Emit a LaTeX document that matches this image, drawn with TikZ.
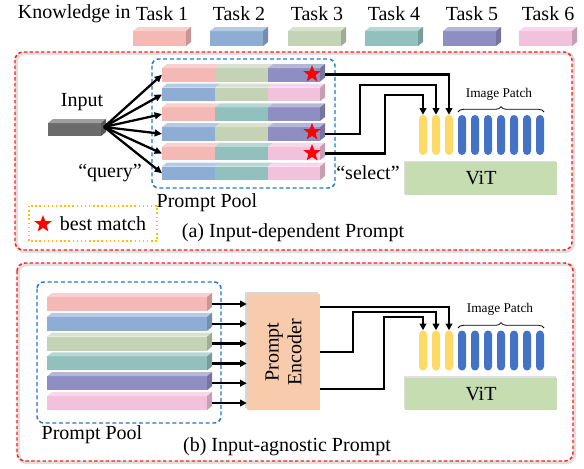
\documentclass[tikz,border=0pt]{standalone}
\usepackage{fontspec}
\setmainfont{Liberation Serif}
\usetikzlibrary{shapes.geometric,decorations.pathreplacing,arrows.meta,shadows}
\definecolor{tA}{HTML}{F4B8B5}
\definecolor{tB}{HTML}{8EADD4}
\definecolor{tC}{HTML}{C4D2B6}
\definecolor{tD}{HTML}{91C0BD}
\definecolor{tE}{HTML}{8F8EC3}
\definecolor{tF}{HTML}{F2C2DD}
\definecolor{inG}{HTML}{6B6B6B}
\definecolor{tokY}{HTML}{FFD966}
\definecolor{tokB}{HTML}{4472C4}
\definecolor{vitG}{HTML}{C5DDB0}
\definecolor{encP}{HTML}{F8CBAD}
\definecolor{poolB}{HTML}{1F78C8}
\definecolor{matchO}{HTML}{FFC000}
\definecolor{panelR}{HTML}{FF1A1A}
\newcommand{\segbar}[5]{%
  \fill[#5] (#1,#2) rectangle ++(#3,#4);
  \fill[#5!65!white] (#1,#2) -- ++(5,-4) -- ++(#3,0) -- ++(-5,4) -- cycle;}
\newcommand{\sidebar}[4]{%
  \fill[#4!82!black] (#1,#2) -- ++(5,-4) -- ++(0,#3) -- ++(-5,4) -- cycle;}
\begin{document}
\begin{tikzpicture}[x=0.75pt,y=-0.75pt,
  txt/.style={font=\fontsize{15}{18}\selectfont, inner sep=0pt},
  smalltxt/.style={font=\fontsize{10}{12}\selectfont, inner sep=0pt},
  panel/.style={draw=panelR, dashed, dash pattern=on 2.5pt off 1.8pt, line width=1.1pt, rounded corners=6pt},
  panelshadow/.style={draw=black!12, line width=2.5pt, rounded corners=6pt},
  pool/.style={draw=poolB, dashed, dash pattern=on 3pt off 2pt, line width=1.1pt, rounded corners=5pt},
  ytok/.style={fill=tokY, rounded corners=3pt, minimum width=6pt, minimum height=30pt, inner sep=0pt},
  btok/.style={fill=tokB, rounded corners=3pt, minimum width=6pt, minimum height=30pt, inner sep=0pt},
  vit/.style={fill=vitG, minimum width=114pt, minimum height=24.5pt, inner sep=0pt, font=\fontsize{15}{18}\selectfont,
    drop shadow={shadow xshift=-1pt, shadow yshift=1pt, opacity=0.25}},
  bstar/.style={star, star points=5, star point ratio=2.4, fill=red, minimum size=13.5pt, inner sep=0pt},
  conn/.style={line width=1.9pt, -{Triangle[length=5pt,width=5pt]}},
  qarrow/.style={line width=1.7pt, -{Triangle[length=5.5pt,width=5pt]}},
]
\useasboundingbox (0,0) rectangle (584,468);
\fill[white] (0,0) rectangle (584,468);

% ---------- legend ----------
\node[txt, anchor=east] (know) at (131,14) {Knowledge in};
\foreach \i/\x/\c in {1/133/tA,2/210/tB,3/288/tC,4/365/tD,5/443/tE,6/519/tF}{
  \segbar{\x}{31}{53}{15}{\c}
  \sidebar{\x+53}{31}{15}{\c}
  \node[txt] (task\i) at (\x+29,14) {Task \i};
}

% ---------- panel (a) ----------
\draw[panelshadow] (16.5,53.5) rectangle (573.5,251.5);
\draw[panel] (15,52) rectangle (572,250);
\draw[pool] (152,59) rectangle (335,188);

% rows of the pool (a)
\foreach \r/\a/\b/\c in {1/tA/tC/tE,2/tB/tC/tF,3/tA/tD/tE,4/tB/tC/tE,5/tA/tD/tF,6/tB/tD/tF}{
  \pgfmathsetmacro{\yy}{68+19.7*(\r-1)}
  \segbar{162}{\yy}{53}{13.5}{\a}
  \segbar{215}{\yy}{53}{13.5}{\b}
  \segbar{268}{\yy}{52}{13.5}{\c}
  \sidebar{320}{\yy}{13.5}{\c}
  \coordinate (pa\r) at (162,\yy+6.75);
  \coordinate (qa\r) at (325,\yy+6.75);
}

% input block
\segbar{48}{123}{53}{13}{inG}
\sidebar{101}{123}{13}{inG}
\coordinate (inR) at (104,127);
\node[txt] (inlab) at (82,102) {Input};
\foreach \r in {1,...,6}{ \draw[qarrow] (inR) -- (pa\r); }
\node[txt] (query) at (110,173) {“query”};

% stars
\node[bstar] (st1) at (312,74) {};
\node[bstar] (st4) at (312,132) {};
\node[bstar] (st5) at (312,153) {};

% tokens (a)
\foreach \i/\x in {1/423,2/436,3/449}{ \node[ytok] (ya\i) at (\x,135) {}; }
\foreach \i/\x in {1/462,2/475,3/488,4/501,5/514,6/527,7/540}{ \node[btok] (ba\i) at (\x,135) {}; }
\draw[decorate, decoration={brace, amplitude=4pt}, line width=0.6pt] (458,112) -- (544,112);
\node[smalltxt] (pha) at (499,94) {Image Patch};
\node[vit] (vita) at (481,178.5) {ViT};

% selection connectors (a)
\draw[conn] (qa1) -| (ya3.north);
\draw[conn] (qa4) -- ++(35,0) |- (436,85) -- (ya2.north);
\draw[conn] (qa5) -- ++(60,0) |- (423,95) -- (ya1.north);
\node[txt] (select) at (368,173) {“select”};

\node[txt] (poola) at (207,203) {Prompt Pool};
\draw[matchO, dotted, line width=1.1pt] (29,206) rectangle (157,241);
\node[bstar] (stl) at (43,224) {};
\node[txt] (best) at (103,224) {best match};
\node[txt] (capa) at (293,233) {(a) Input-dependent Prompt};

% ---------- panel (b) ----------
\draw[panelshadow] (18.5,264.5) rectangle (574.5,462.5);
\draw[panel] (17,263) rectangle (573,461);
\draw[pool] (37,282) rectangle (221,423);
\foreach \r/\c in {1/tA,2/tB,3/tC,4/tD,5/tE,6/tF}{
  \pgfmathsetmacro{\yy}{297+19.8*(\r-1)}
  \segbar{47}{\yy}{160}{14}{\c}
  \sidebar{207}{\yy}{14}{\c}
  \coordinate (qb\r) at (212,\yy+7);
}
\node[fill=encP, minimum width=73pt*0.75, minimum height=116pt*0.75, inner sep=0pt,
  drop shadow={shadow xshift=-1.2pt, shadow yshift=1.2pt, opacity=0.3}] (enc) at (283.5,352) {};
\node[txt, rotate=90, align=center, font=\fontsize{15}{17}\selectfont] (enctxt) at (283.5,352) {Prompt\\Encoder};
\foreach \r in {1,...,6}{ \draw[conn] (qb\r) -- (qb\r -| enc.west); }

\foreach \i/\x in {1/423,2/436,3/449}{ \node[ytok] (yb\i) at (\x,350.5) {}; }
\foreach \i/\x in {1/462,2/475,3/488,4/501,5/514,6/527,7/540}{ \node[btok] (bb\i) at (\x,350.5) {}; }
\draw[decorate, decoration={brace, amplitude=4pt}, line width=0.6pt] (458,328) -- (544,328);
\node[smalltxt] (phb) at (500,309) {Image Patch};
\node[vit] (vitb) at (481,394) {ViT};

\coordinate (e1) at (320,307);
\coordinate (e2) at (320,352);
\coordinate (e3) at (320,389);
\draw[conn] (e1) -| (yb3.north);
\draw[conn] (e2) -- (353,352) |- (436,312) -- (yb2.north);
\draw[conn] (e3) -- (384,389) |- (423,317) -- (yb1.north);

\node[txt] (poolb) at (92,435) {Prompt Pool};
\node[txt] (capb) at (287,447) {(b) Input-agnostic Prompt};
\end{tikzpicture}
\end{document}
